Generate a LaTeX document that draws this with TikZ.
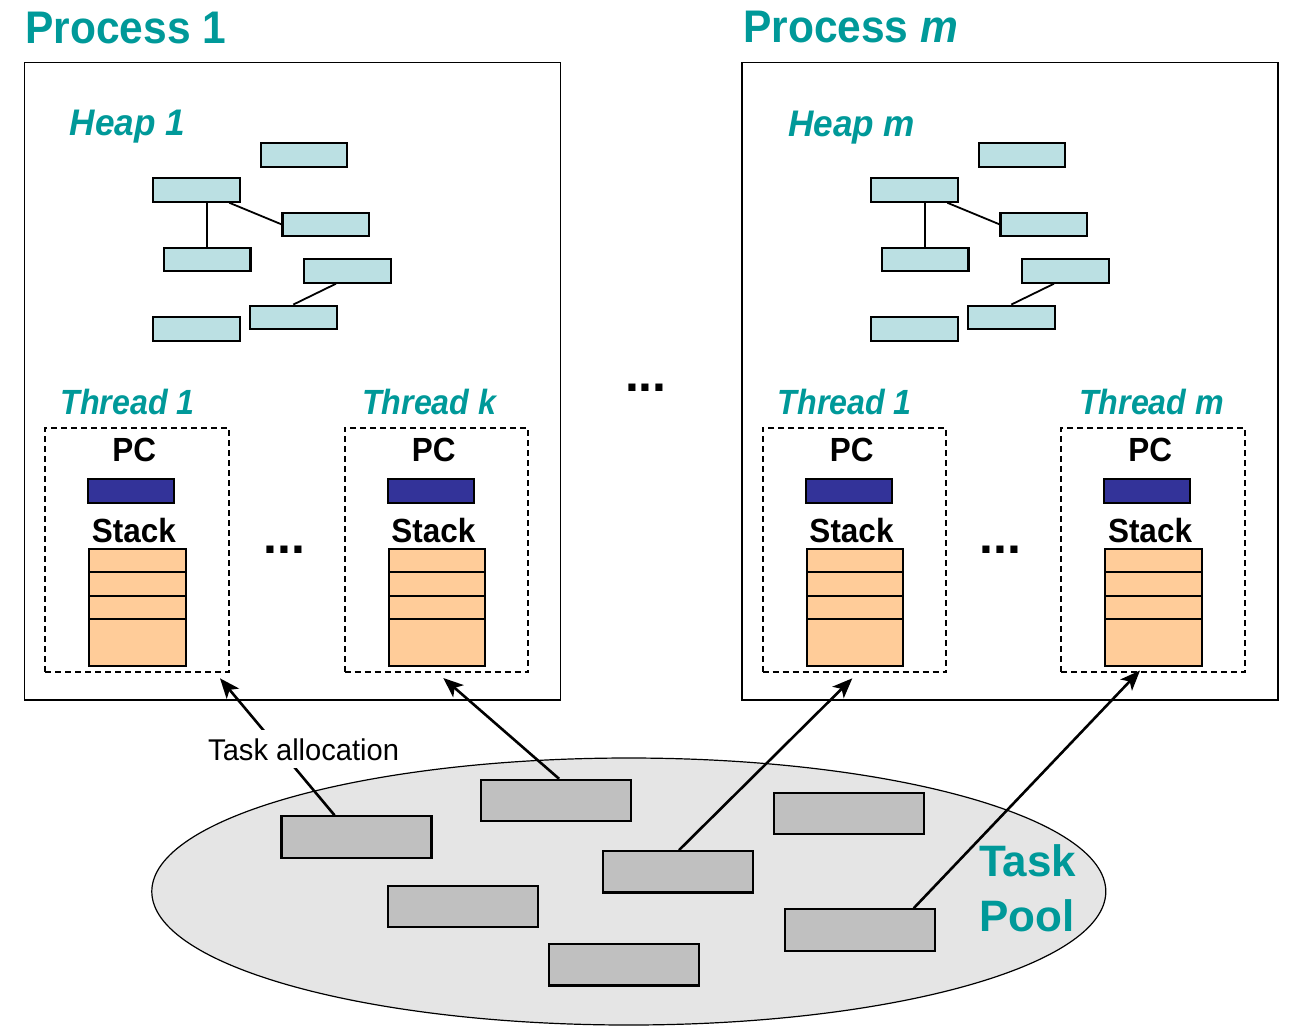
\documentclass[tikz,border=0pt]{standalone}
\usepackage{fontspec}
\setmainfont{Liberation Sans}
\newfontfamily\tfont[FakeStretch=0.93]{Liberation Sans}
\newfontfamily\ifont[FakeStretch=0.92]{Liberation Sans}
\newfontfamily\hfont[FakeStretch=0.95]{Liberation Sans}
\newfontfamily\lfont[FakeStretch=0.94]{Liberation Sans}
\newfontfamily\afont[FakeStretch=0.97]{Liberation Sans}
\usetikzlibrary{arrows.meta,shapes.geometric}
\definecolor{myteal}{RGB}{0,153,153}
\definecolor{heapc}{RGB}{187,224,227}
\definecolor{pcc}{RGB}{51,51,153}
\definecolor{stc}{RGB}{255,204,153}
\definecolor{tbc}{RGB}{192,192,192}
\definecolor{poolc}{RGB}{229,229,229}
\tikzset{
  procbox/.style={draw, line width=1.6pt, minimum width=536pt, minimum height=637.5pt, inner sep=0pt},
  heapbox/.style={draw, line width=2.1pt, fill=heapc, minimum width=86.5pt, minimum height=23.4pt, inner sep=0pt},
  hline/.style={line width=1.8pt},
  thrbox/.style={draw, dash pattern=on 6pt off 4pt, line width=1.9pt, minimum width=183.5pt, minimum height=244.6pt, inner sep=0pt},
  pcbar/.style={draw, line width=2.1pt, fill=pcc, minimum width=86pt, minimum height=24pt, inner sep=0pt},
  stk/.style={draw, line width=2.1pt, fill=stc, minimum width=96.5pt, inner sep=0pt},
  taskbox/.style={draw, line width=2.1pt, fill=tbc, minimum width=150pt, minimum height=41.3pt, inner sep=0pt},
  pool/.style={draw, line width=1.2pt, fill=poolc, ellipse, minimum width=954pt, minimum height=267pt, inner sep=0pt},
  arr/.style={line width=2.6pt, -{Stealth[length=20pt,width=16pt,inset=5pt]}},
  title/.style={text=myteal, font=\tfont\bfseries\fontsize{45.7}{50}\selectfont, inner sep=0pt, anchor=base west},
  tlab/.style={text=myteal, font=\ifont\bfseries\itshape\fontsize{35}{40}\selectfont, inner sep=0pt, anchor=base west},
  hlab/.style={text=myteal, font=\hfont\bfseries\itshape\fontsize{37}{42}\selectfont, inner sep=0pt, anchor=base west},
  blk/.style={font=\lfont\bfseries\fontsize{33.5}{38}\selectfont, inner sep=0pt, anchor=base},
  dots/.style={font=\bfseries\fontsize{50}{55}\selectfont, inner sep=0pt, anchor=base west}
}
\begin{document}
\begin{tikzpicture}[x=1pt,y=-1pt]
\useasboundingbox (0,0) rectangle (1300,1031);

% processes
\node[procbox] (proc1) at (292.5,381.25) {};
\node[procbox] (procm) at (1009.75,381.25) {};
\node[title] (title1) at (25.3,43) {Process 1};
\node[title] (titlem) at (743,42.7) {Process \textit{m}};
\node[hlab] (heap1) at (69.7,135) {Heap 1};
\node[hlab] (heapm) at (788,136) {Heap m};

% heaps
\foreach \p/\dx in {a/0,b/718} {
  \node[heapbox] (h1\p) at ({304+\dx},155) {};
  \node[heapbox] (h2\p) at ({196.6+\dx},190) {};
  \node[heapbox] (h3\p) at ({325.7+\dx},224.3) {};
  \node[heapbox] (h4\p) at ({207.2+\dx},259.3) {};
  \node[heapbox] (h5\p) at ({347.3+\dx},271) {};
  \node[heapbox] (h6\p) at ({293.3+\dx},317.3) {};
  \node[heapbox] (h7\p) at ({196.6+\dx},329) {};
  \draw[hline] (h2\p.south -| h4\p.north) -- (h4\p.north);
  \draw[hline] ([xshift=32.7pt]h2\p.south) -- (h3\p.west);
  \draw[hline] ([xshift=-11.4pt]h5\p.south) -- (h6\p.north);
}

% threads
\foreach \n/\dx/\lx/\lab in {a/0/60.2/{Thread 1}, b/299.5/362/{Thread k}, c/717.5/777.5/{Thread 1}, d/1016/1079/{Thread m}} {
  \node[thrbox] (th\n) at ({136.8+\dx},550) {};
  \node[tlab] (tl\n) at (\lx,414.3) {\lab};
  \node[blk] (pc\n) at ({134.2+\dx},461) {PC};
  \node[pcbar] (pcb\n) at ({131.3+\dx},491.3) {};
  \node[blk] (sl\n) at ({134+\dx},542.3) {Stack};
  \node[stk, minimum height=23.3pt] (sa\n) at ({137.5+\dx},560.65) {};
  \node[stk, minimum height=23.3pt] (sb\n) at ({137.5+\dx},583.95) {};
  \node[stk, minimum height=23.3pt] (sc\n) at ({137.5+\dx},607.25) {};
  \node[stk, minimum height=46.7pt] (sd\n) at ({137.5+\dx},642.35) {};
}

% dots
\node[dots] (dots1) at (263.5,553.3) {...};
\node[dots] (dotsmid) at (624.8,391) {...};
\node[dots] (dots2) at (979.5,553.3) {...};

% task pool
\node[pool] (pool) at (628.8,891.5) {};
\node[taskbox] (tk1) at (356.5,836.9) {};
\node[taskbox] (tk2) at (556.1,800.5) {};
\node[taskbox] (tk3) at (848.9,813.7) {};
\node[taskbox] (tk4) at (677.6,871.8) {};
\node[taskbox] (tk5) at (463.3,906.7) {};
\node[taskbox] (tk6) at (624,964.8) {};
\node[taskbox] (tk7) at (859.7,929.9) {};
\node[text=myteal, font=\bfseries\fontsize{44}{55}\selectfont, align=left, anchor=west, inner sep=0pt] (poollab) at (979,888.3) {Task\\Pool};

% arrows
\coordinate (tipa) at (220,678.3);
\coordinate (tipb) at (443.3,678);
\coordinate (tipc) at (852.3,678.3);
\coordinate (tipd) at (1140,670.5);
\draw[arr] ([xshift=-22pt]tk1.north) -- (tipa);
\draw[arr] ([xshift=3pt]tk2.north) -- (tipb);
\draw[arr] ([xshift=1.4pt]tk4.north) -- (tipc);
\draw[arr] ([xshift=54pt]tk7.north) -- (tipd);
\node[fill=white, inner xsep=2pt, inner ysep=8pt, text height=22pt, text depth=0pt, anchor=base west, font=\afont\fontsize{30}{36}\selectfont] (alloc) at (206,760) {Task allocation};
\end{tikzpicture}
\end{document}
